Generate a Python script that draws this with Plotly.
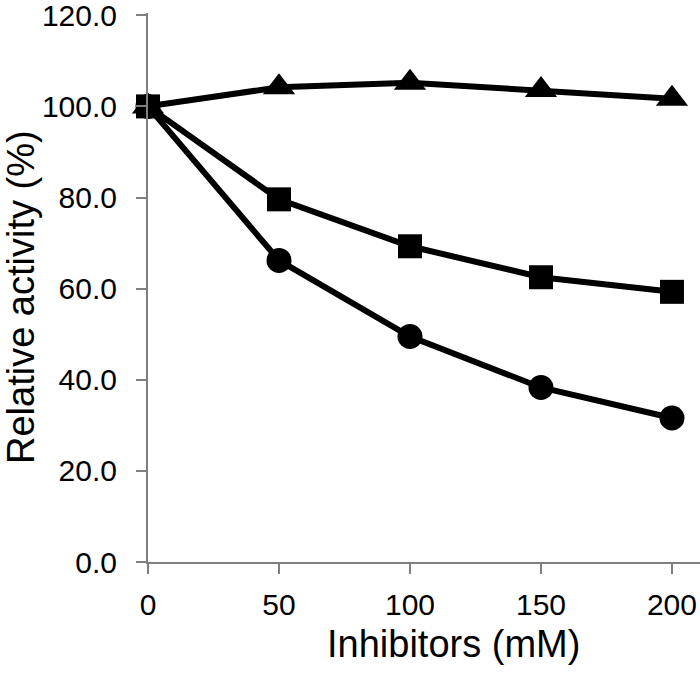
import plotly.graph_objects as go

conc = [0, 50, 100, 150, 200]
triangle = [100.0, 104.2, 105.2, 103.6, 101.7]
square = [100.0, 79.6, 69.3, 62.5, 59.3]
circle = [100.0, 66.2, 49.5, 38.3, 31.6]

y_ticks = [0, 20, 40, 60, 80, 100, 120]
y_labels = ['0.0', '20.0', '40.0', '60.0', '80.0', '100.0', '120.0']
x_ticks = [0, 50, 100, 150, 200]

font = 'Liberation Sans, Arial, sans-serif'
axis_grey = '#808080'

# plot area in pixels
left, right_edge, bottom_axis = 148, 700, 562
top = 13
W, H = 700, 681

fig = go.Figure()

series = [
    (circle, 'circle', 25),
    (square, 'square', 24),
    (triangle, 'triangle-up', 28),
]
for values, symbol, size in series:
    fig.add_trace(go.Scatter(
        x=conc, y=values,
        mode='lines+markers',
        line=dict(color='black', width=6),
        marker=dict(symbol=symbol, size=size, color='black'),
        cliponaxis=False,
        showlegend=False
    ))

plot_w = right_edge - left
plot_h = bottom_axis - top

fig.update_layout(
    width=W, height=H,
    margin=dict(l=left, r=W - right_edge, t=top, b=H - bottom_axis, pad=0),
    plot_bgcolor='white',
    paper_bgcolor='white',
    font=dict(family=font, size=30, color='black'),
    xaxis=dict(
        range=[0, 210.7],
        tickvals=x_ticks,
        showline=True, linecolor=axis_grey, linewidth=2,
        ticks='outside', ticklen=10, tickwidth=2, tickcolor=axis_grey,
        showgrid=False, zeroline=False,
        ticklabelstandoff=5, ticklabeloverflow='allow'
    ),
    yaxis=dict(
        range=[0, 120.5],
        tickvals=y_ticks, ticktext=y_labels,
        showline=True, linecolor=axis_grey, linewidth=2,
        ticks='outside', ticklen=10, tickwidth=2, tickcolor=axis_grey,
        showgrid=False, zeroline=False,
        ticklabelstandoff=13, ticklabeloverflow='allow'
    ),
)


def px_to_paper(px, py):
    return (px - left) / plot_w, (bottom_axis - py) / plot_h


tx, ty = px_to_paper(453, 644)
fig.add_annotation(text='Inhibitors (mM)', x=tx, y=ty, xref='paper', yref='paper',
                   xanchor='center', yanchor='middle', showarrow=False,
                   font=dict(size=38))
tx, ty = px_to_paper(21, 297)
fig.add_annotation(text='Relative activity (%)', x=tx, y=ty, xref='paper', yref='paper',
                   xanchor='center', yanchor='middle', textangle=-90, showarrow=False,
                   font=dict(size=38))

# drop the default body margin so the figure sits at the window's corner
fig.write_html("out.html", config={'displayModeBar': False},
               post_script="document.body.style.margin='0';")
